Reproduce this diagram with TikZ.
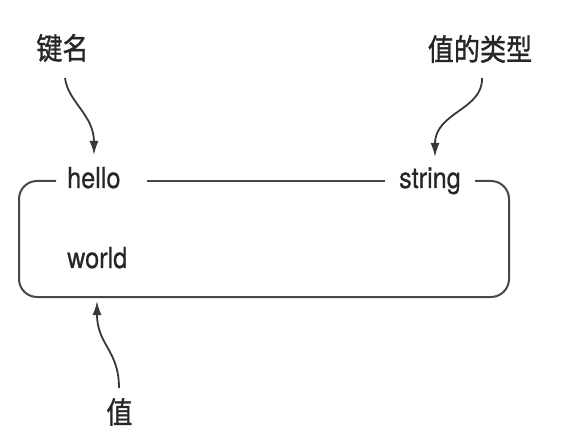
\documentclass[tikz,border=0pt]{standalone}
\usepackage{fontspec}
\setsansfont{TeX Gyre Heros}[FakeBold=0.7]
\newfontfamily\cjk{Noto Sans CJK SC}[FakeBold=1.2]
\usetikzlibrary{arrows.meta}
\newcommand{\sqz}[1]{\scalebox{0.87}[1]{#1}}
\tikzset{
  lbl/.style={inner sep=0pt, text=black!85, font=\fontsize{29}{30}\selectfont\sffamily},
  cjklbl/.style={inner sep=0pt, text=black!85, font=\fontsize{30}{31}\selectfont\cjk},
  boxline/.style={line width=2pt, draw=black!72, rounded corners=18pt},
  arr/.style={line width=1.8pt, draw=black!78, -{Latex[length=14pt,width=9pt]}}
}
\begin{document}
\begin{tikzpicture}[x=1pt,y=-1pt]
\useasboundingbox (0,0) rectangle (571,441);
% labels
\node[cjklbl] (jm) at (62.5,48) {\sqz{键名}};
\node[cjklbl] (lx) at (480,49) {\sqz{值的类型}};
\node[cjklbl] (zhi) at (119.5,412) {\sqz{值}};
\node[lbl, anchor=base west] (hello) at (67,188) {\sqz{hello}};
\node[lbl, anchor=base west] (string) at (399,188) {\sqz{string}};
\node[lbl, anchor=base west] (world) at (67,268) {\sqz{world}};
% box corners / gaps
\coordinate (gl) at (56,181);
\coordinate (gm1) at (147,181);
\coordinate (gm2) at (385,181);
\coordinate (gr) at (475,181);
\coordinate (tl) at (19,181);
\coordinate (bl) at (19,297);
\coordinate (br) at (509,297);
\coordinate (tr) at (509,181);
\draw[boxline] (gl) -- (tl) -- (bl) -- (br) -- (tr) -- (gr);
\draw[boxline] (gm1) -- (gm2);
% arrows
\coordinate (a1s) at (65,78);
\coordinate (a1e) at (94,155);
\coordinate (a2s) at (482,78);
\coordinate (a2e) at (435,157);
\coordinate (a3s) at (119,388);
\coordinate (a3e) at (97,301);
\draw[arr] (a1s) .. controls (68,102) and (94,115) .. (a1e);
\draw[arr] (a2s) .. controls (483,110) and (435,112) .. (a2e);
\draw[arr] (a3s) .. controls (119,350) and (97,345) .. (a3e);
\end{tikzpicture}
\end{document}
